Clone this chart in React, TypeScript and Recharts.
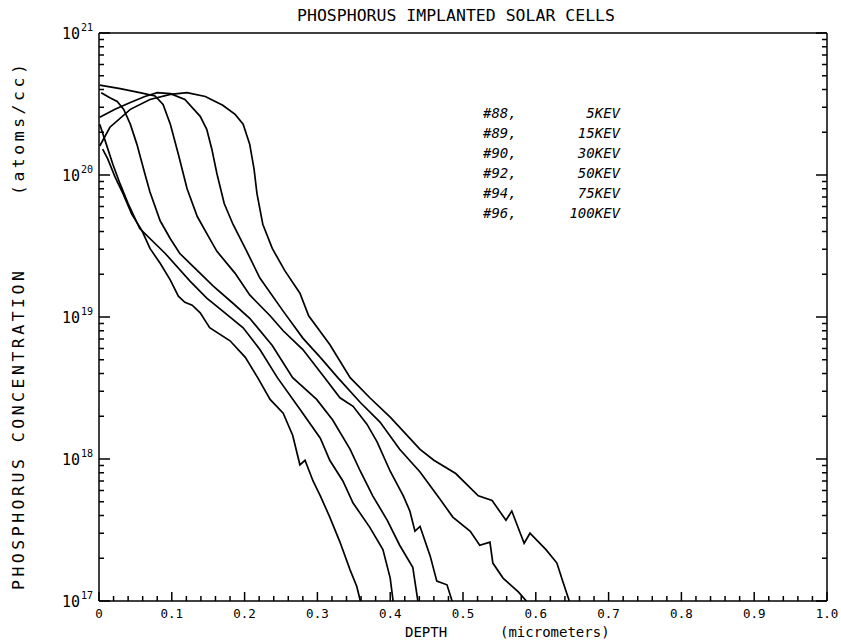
import { LineChart, Line, XAxis, YAxis } from "recharts";

// depth (micrometers), concentration (atoms/cc)
const kev5: [number, number][] = [
  [0.005, 1.52e20], [0.012, 1.3e20], [0.022, 9.7e19], [0.033, 7.4e19], [0.045, 5.3e19],
  [0.059, 4.06e19], [0.07, 3.04e19], [0.084, 2.39e19], [0.098, 1.82e19], [0.109, 1.4e19],
  [0.118, 1.27e19], [0.128, 1.21e19], [0.139, 1.07e19], [0.152, 8.4e18], [0.18, 6.8e18],
  [0.201, 5.2e18], [0.218, 3.74e18], [0.235, 2.63e18], [0.253, 2.1e18], [0.266, 1.47e18],
  [0.276, 9.1e17], [0.283, 9.8e17], [0.294, 7.0e17], [0.304, 5.5e17], [0.317, 3.9e17],
  [0.331, 2.6e17], [0.345, 1.65e17], [0.354, 1.27e17], [0.359, 1.0e17],
];
const kev15: [number, number][] = [
  [0.001, 2.28e20], [0.01, 1.65e20], [0.019, 1.19e20], [0.029, 8.65e19], [0.04, 6.3e19],
  [0.056, 4.2e19], [0.091, 2.8e19], [0.125, 1.79e19], [0.148, 1.36e19], [0.17, 1.1e19],
  [0.198, 8.4e18], [0.221, 5.9e18], [0.245, 3.74e18], [0.276, 2.24e18], [0.304, 1.4e18],
  [0.317, 9.8e17], [0.335, 7.0e17], [0.349, 4.9e17], [0.372, 3.3e17], [0.39, 2.3e17],
  [0.4, 1.45e17], [0.404, 1.0e17],
];
const kev30: [number, number][] = [
  [0.003, 3.8e20], [0.015, 3.5e20], [0.025, 3.3e20], [0.034, 2.9e20], [0.043, 2.28e20],
  [0.052, 1.65e20], [0.063, 1.02e20], [0.07, 7.6e19], [0.084, 4.76e19], [0.098, 3.56e19],
  [0.111, 2.8e19], [0.132, 2.2e19], [0.157, 1.65e19], [0.184, 1.25e19], [0.207, 9.8e18],
  [0.238, 6.3e18], [0.266, 3.74e18], [0.299, 2.63e18], [0.321, 1.88e18], [0.345, 1.17e18],
  [0.359, 8.2e17], [0.376, 5.5e17], [0.396, 3.7e17], [0.413, 2.47e17], [0.431, 1.73e17],
  [0.438, 1.0e17],
];
const kev50: [number, number][] = [
  [0.001, 4.3e20], [0.029, 4.06e20], [0.056, 3.8e20], [0.077, 3.6e20], [0.088, 3.14e20],
  [0.098, 2.28e20], [0.109, 1.4e20], [0.121, 8.0e19], [0.135, 5.1e19], [0.152, 3.56e19],
  [0.162, 2.9e19], [0.187, 2.03e19], [0.207, 1.43e19], [0.235, 1.02e19], [0.253, 8.0e18],
  [0.28, 5.9e18], [0.31, 3.74e18], [0.331, 2.7e18], [0.349, 2.35e18], [0.368, 1.76e18],
  [0.382, 1.32e18], [0.4, 8.2e17], [0.418, 5.5e17], [0.427, 4.3e17], [0.434, 3.1e17],
  [0.441, 3.35e17], [0.455, 2.07e17], [0.464, 1.38e17], [0.478, 1.3e17], [0.485, 1.0e17],
];
const kev75: [number, number][] = [
  [0.001, 2.55e20], [0.022, 2.9e20], [0.043, 3.24e20], [0.063, 3.57e20], [0.08, 3.8e20],
  [0.098, 3.74e20], [0.118, 3.4e20], [0.139, 2.59e20], [0.148, 2.1e20], [0.155, 1.52e20],
  [0.162, 1.02e20], [0.172, 6.3e19], [0.184, 4.5e19], [0.203, 2.9e19], [0.221, 1.88e19],
  [0.253, 1.1e19], [0.28, 7.1e18], [0.304, 5.2e18], [0.328, 3.74e18], [0.359, 2.5e18],
  [0.386, 1.82e18], [0.413, 1.17e18], [0.441, 8.1e17], [0.468, 5.25e17], [0.486, 3.9e17],
  [0.51, 3.1e17], [0.523, 2.47e17], [0.537, 2.6e17], [0.541, 1.85e17], [0.555, 1.45e17],
  [0.576, 1.16e17], [0.587, 1.0e17],
];
const kev100: [number, number][] = [
  [0.001, 1.6e20], [0.015, 2.17e20], [0.043, 2.9e20], [0.07, 3.4e20], [0.098, 3.7e20],
  [0.121, 3.8e20], [0.146, 3.57e20], [0.17, 3.1e20], [0.187, 2.67e20], [0.198, 2.28e20],
  [0.207, 1.65e20], [0.213, 1.1e20], [0.217, 7.4e19], [0.225, 4.5e19], [0.238, 3.04e19],
  [0.255, 2.13e19], [0.276, 1.47e19], [0.288, 1.02e19], [0.317, 6.4e18], [0.345, 3.74e18],
  [0.372, 2.7e18], [0.4, 1.97e18], [0.441, 1.17e18], [0.46, 9.8e17], [0.49, 7.9e17],
  [0.521, 5.5e17], [0.54, 5.1e17], [0.559, 3.7e17], [0.567, 4.3e17], [0.584, 2.55e17],
  [0.592, 3.0e17], [0.614, 2.3e17], [0.629, 1.85e17], [0.637, 1.38e17], [0.646, 1.0e17],
];

const runs = ["#88,", "#89,", "#90,", "#92,", "#94,", "#96,"];
const energies = ["5KEV", "15KEV", "30KEV", "50KEV", "75KEV", "100KEV"];
const profiles = [kev5, kev15, kev30, kev50, kev75, kev100];

const xTickLabels = ["0", "0.1", "0.2", "0.3", "0.4", "0.5", "0.6", "0.7", "0.8", "0.9", "1.0"];
const yExponents = [17, 18, 19, 20, 21];

const FONT = "'DejaVu Sans Mono', monospace";

const xTicks = Array.from({ length: 51 }, (_, i) => i / 50);
const yTicks: number[] = [];
yExponents.forEach((e, i) => {
  if (i === yExponents.length - 1) yTicks.push(Math.pow(10, e));
  else for (let m = 1; m <= 9; m++) yTicks.push(m * Math.pow(10, e));
});

const isMajorX = (v: number) => Math.abs(v * 10 - Math.round(v * 10)) < 1e-6;
const isMajorY = (v: number) => {
  const e = Math.round(Math.log10(v));
  return Math.abs(v / Math.pow(10, e) - 1) < 1e-6;
};

const BottomTick = (props: any) => {
  const { x, y, payload } = props;
  const major = isMajorX(payload.value);
  const idx = Math.round(payload.value * 10);
  return (
    <g>
      <line x1={x} y1={y} x2={x} y2={y - (major ? 9 : 5)} stroke="#000" strokeWidth={1.5} />
      {major && (
        <text x={x} y={y + 17} textAnchor="middle" fontSize={12.5} fontFamily={FONT} fill="#000">
          {xTickLabels[idx]}
        </text>
      )}
    </g>
  );
};

const TopTick = (props: any) => {
  const { x, y, payload } = props;
  const major = isMajorX(payload.value);
  return <line x1={x} y1={y} x2={x} y2={y + (major ? 9 : 5)} stroke="#000" strokeWidth={1.5} />;
};

const LeftTick = (props: any) => {
  const { x, y, payload } = props;
  const major = isMajorY(payload.value);
  const exp = Math.round(Math.log10(payload.value));
  return (
    <g>
      <line x1={x} y1={y} x2={x + (major ? 11 : 5)} y2={y} stroke="#000" strokeWidth={1.5} />
      {major && (
        <text x={x - 19} y={y + 6} textAnchor="end" fontSize={15} fontFamily={FONT} fill="#000">
          10
        </text>
      )}
      {major && (
        <text x={x - 18} y={y - 2} fontSize={10} fontFamily={FONT} fill="#000">
          {exp}
        </text>
      )}
    </g>
  );
};

const RightTick = (props: any) => {
  const { x, y, payload } = props;
  const major = isMajorY(payload.value);
  return <line x1={x} y1={y} x2={x - (major ? 11 : 5)} y2={y} stroke="#000" strokeWidth={1.5} />;
};

export default function App() {
  return (
    <div style={{ position: "absolute", left: 0, top: 0, width: 841, height: 642, background: "#fff" }}>
      <LineChart width={841} height={642} margin={{ top: 23, right: 4, bottom: 11, left: 39 }}>
        <XAxis
          xAxisId="b"
          dataKey="x"
          type="number"
          domain={[0, 1]}
          ticks={xTicks}
          interval={0}
          allowDataOverflow
          height={30}
          tickSize={0}
          tickMargin={0}
          tick={<BottomTick />}
          axisLine={{ stroke: "#000", strokeWidth: 1.5 }}
        />
        <XAxis
          xAxisId="t"
          orientation="top"
          type="number"
          domain={[0, 1]}
          ticks={xTicks}
          interval={0}
          allowDataOverflow
          height={10}
          tickSize={0}
          tickMargin={0}
          tick={<TopTick />}
          axisLine={{ stroke: "#000", strokeWidth: 1.5 }}
        />
        <YAxis
          yAxisId="l"
          type="number"
          scale="log"
          domain={[1e17, 1e21]}
          ticks={yTicks}
          interval={0}
          allowDataOverflow
          width={60}
          tickSize={0}
          tickMargin={0}
          tick={<LeftTick />}
          axisLine={{ stroke: "#000", strokeWidth: 1.5 }}
        />
        <YAxis
          yAxisId="r"
          orientation="right"
          type="number"
          scale="log"
          domain={[1e17, 1e21]}
          ticks={yTicks}
          interval={0}
          allowDataOverflow
          width={10}
          tickSize={0}
          tickMargin={0}
          tick={<RightTick />}
          axisLine={{ stroke: "#000", strokeWidth: 1.5 }}
        />
        {profiles.map((p, i) => (
          <Line
            key={energies[i]}
            xAxisId="b"
            yAxisId="l"
            data={p.map(([x, c]) => ({ x, c }))}
            dataKey="c"
            type="linear"
            stroke="#000"
            strokeWidth={1.7}
            dot={false}
            isAnimationActive={false}
          />
        ))}
      </LineChart>
      <svg
        width={841}
        height={642}
        style={{ position: "absolute", left: 0, top: 0, pointerEvents: "none" }}
      >
        <text x={456} y={21} textAnchor="middle" fontSize={16.5} fontFamily={FONT} fill="#000">
          PHOSPHORUS IMPLANTED SOLAR CELLS
        </text>
        <text
          transform="translate(24,590) rotate(-90)"
          fontSize={16.5}
          fontFamily={FONT}
          letterSpacing={3.5}
          fill="#000"
        >
          PHOSPHORUS CONCENTRATION
        </text>
        <text
          transform="translate(24,195) rotate(-90)"
          fontSize={16.5}
          fontFamily={FONT}
          letterSpacing={3.5}
          fill="#000"
        >
          (atoms/cc)
        </text>
        <text x={405} y={637} fontSize={14} fontFamily={FONT} fill="#000">
          DEPTH
        </text>
        <text x={500} y={637} fontSize={14} fontFamily={FONT} fill="#000">
          (micrometers)
        </text>
        {runs.map((r, i) => (
          <g key={r + i}>
            <text x={483} y={118 + 20 * i} fontSize={14} fontStyle="italic" fontFamily={FONT} fill="#000">
              {r}
            </text>
            <text
              x={620}
              y={118 + 20 * i}
              textAnchor="end"
              fontSize={14}
              fontStyle="italic"
              fontFamily={FONT}
              fill="#000"
            >
              {energies[i]}
            </text>
          </g>
        ))}
      </svg>
    </div>
  );
}
